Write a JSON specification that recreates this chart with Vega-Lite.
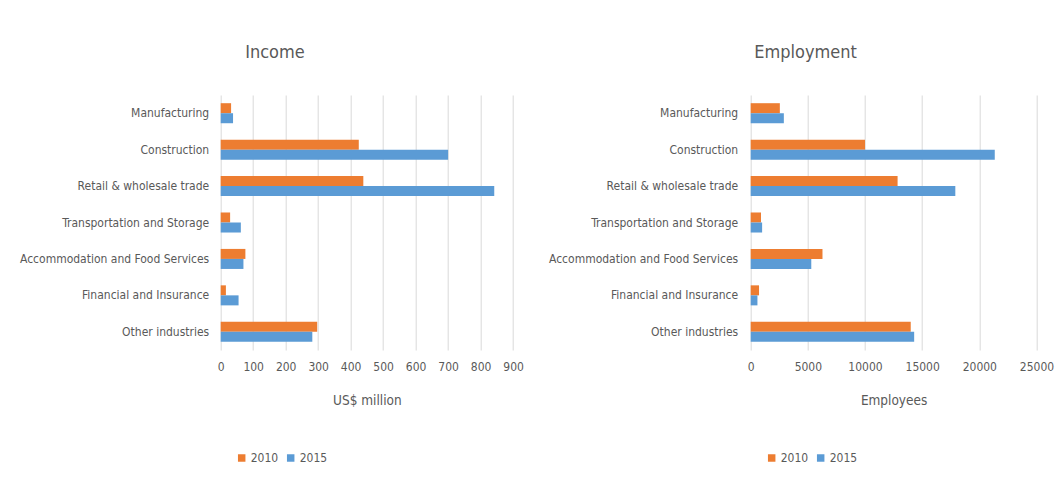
{
  "$schema": "https://vega.github.io/schema/vega-lite/v6.json",
  "padding": {"left": 10.7, "top": 44, "right": 5, "bottom": 5},
  "background": "white",
  "spacing": 17,
  "config": {
    "font": "DejaVu Sans Condensed, sans-serif",
    "view": {"stroke": null},
    "axis": {"labelColor": "#595959", "titleColor": "#595959", "labelFontSize": 12, "titleFontSize": 13.5, "titleFontWeight": "normal", "gridColor": "#d9d9d9", "domain": false, "ticks": false, "labelLimit": 0, "labelFlush": false},
    "title": {"fontSize": 18, "fontWeight": "normal", "color": "#595959", "anchor": "middle", "offset": 33},
    "legend": {"labelColor": "#595959", "labelFontSize": 12, "symbolType": "square", "symbolSize": 56, "symbolStrokeWidth": 0, "labelOffset": 3, "columnPadding": 6}
  },
  "data": {"values": [
    {"measure": "Income", "industry": "Manufacturing", "year": "2010", "value": 32},
    {"measure": "Income", "industry": "Manufacturing", "year": "2015", "value": 38},
    {"measure": "Income", "industry": "Construction", "year": "2010", "value": 425},
    {"measure": "Income", "industry": "Construction", "year": "2015", "value": 700},
    {"measure": "Income", "industry": "Retail & wholesale trade", "year": "2010", "value": 439},
    {"measure": "Income", "industry": "Retail & wholesale trade", "year": "2015", "value": 842},
    {"measure": "Income", "industry": "Transportation and Storage", "year": "2010", "value": 29},
    {"measure": "Income", "industry": "Transportation and Storage", "year": "2015", "value": 62},
    {"measure": "Income", "industry": "Accommodation and Food Services", "year": "2010", "value": 76},
    {"measure": "Income", "industry": "Accommodation and Food Services", "year": "2015", "value": 70},
    {"measure": "Income", "industry": "Financial and Insurance", "year": "2010", "value": 16},
    {"measure": "Income", "industry": "Financial and Insurance", "year": "2015", "value": 55},
    {"measure": "Income", "industry": "Other industries", "year": "2010", "value": 297},
    {"measure": "Income", "industry": "Other industries", "year": "2015", "value": 282},
    {"measure": "Employment", "industry": "Manufacturing", "year": "2010", "value": 2550},
    {"measure": "Employment", "industry": "Manufacturing", "year": "2015", "value": 2900},
    {"measure": "Employment", "industry": "Construction", "year": "2010", "value": 10000},
    {"measure": "Employment", "industry": "Construction", "year": "2015", "value": 21350},
    {"measure": "Employment", "industry": "Retail & wholesale trade", "year": "2010", "value": 12850},
    {"measure": "Employment", "industry": "Retail & wholesale trade", "year": "2015", "value": 17900},
    {"measure": "Employment", "industry": "Transportation and Storage", "year": "2010", "value": 900},
    {"measure": "Employment", "industry": "Transportation and Storage", "year": "2015", "value": 1000},
    {"measure": "Employment", "industry": "Accommodation and Food Services", "year": "2010", "value": 6280},
    {"measure": "Employment", "industry": "Accommodation and Food Services", "year": "2015", "value": 5300},
    {"measure": "Employment", "industry": "Financial and Insurance", "year": "2010", "value": 730},
    {"measure": "Employment", "industry": "Financial and Insurance", "year": "2015", "value": 590},
    {"measure": "Employment", "industry": "Other industries", "year": "2010", "value": 14000},
    {"measure": "Employment", "industry": "Other industries", "year": "2015", "value": 14300}
  ]},
  "resolve": {"legend": {"color": "independent"}, "scale": {"x": "independent"}},
  "hconcat": [
    {
      "title": {"text": "Income", "dx": -92},
      "width": 292.4,
      "height": 255,
      "transform": [{"filter": "datum.measure === 'Income'"}],
      "mark": {"type": "bar"},
      "encoding": {
        "y": {"field": "industry", "type": "nominal", "title": null,
          "sort": ["Manufacturing", "Construction", "Retail & wholesale trade", "Transportation and Storage", "Accommodation and Food Services", "Financial and Insurance", "Other industries"],
          "scale": {"paddingInner": 0.45, "paddingOuter": 0.225},
          "axis": {"labelPadding": 12, "minExtent": 210, "maxExtent": 210, "grid": false}},
        "yOffset": {"field": "year", "type": "nominal", "sort": ["2010", "2015"], "scale": {"paddingInner": 0, "paddingOuter": 0}},
        "x": {"field": "value", "type": "quantitative", "title": "US$ million",
          "scale": {"domain": [0, 900], "nice": false},
          "axis": {"values": [0, 100, 200, 300, 400, 500, 600, 700, 800, 900], "labelOverlap": false, "labelPadding": 11.5, "titlePadding": 21.5, "grid": true}},
        "color": {"field": "year", "type": "nominal",
          "scale": {"domain": ["2010", "2015"], "range": ["#ED7D31", "#5B9BD5"]},
          "legend": {"orient": "none", "legendX": 15, "legendY": 357, "direction": "horizontal", "title": null}}
      }
    },
    {
      "title": {"text": "Employment", "dx": -88},
      "width": 285.8,
      "height": 255,
      "transform": [{"filter": "datum.measure === 'Employment'"}],
      "mark": {"type": "bar"},
      "encoding": {
        "y": {"field": "industry", "type": "nominal", "title": null,
          "sort": ["Manufacturing", "Construction", "Retail & wholesale trade", "Transportation and Storage", "Accommodation and Food Services", "Financial and Insurance", "Other industries"],
          "scale": {"paddingInner": 0.45, "paddingOuter": 0.225},
          "axis": {"labelPadding": 13, "minExtent": 210, "maxExtent": 210, "grid": false}},
        "yOffset": {"field": "year", "type": "nominal", "sort": ["2010", "2015"], "scale": {"paddingInner": 0, "paddingOuter": 0}},
        "x": {"field": "value", "type": "quantitative", "title": "Employees",
          "scale": {"domain": [0, 25000], "nice": false},
          "axis": {"values": [0, 5000, 10000, 15000, 20000, 25000], "format": "d", "labelOverlap": false, "labelPadding": 11.5, "titlePadding": 21.5, "grid": true}},
        "color": {"field": "year", "type": "nominal",
          "scale": {"domain": ["2010", "2015"], "range": ["#ED7D31", "#5B9BD5"]},
          "legend": {"orient": "none", "legendX": 15, "legendY": 357, "direction": "horizontal", "title": null}}
      }
    }
  ]
}
